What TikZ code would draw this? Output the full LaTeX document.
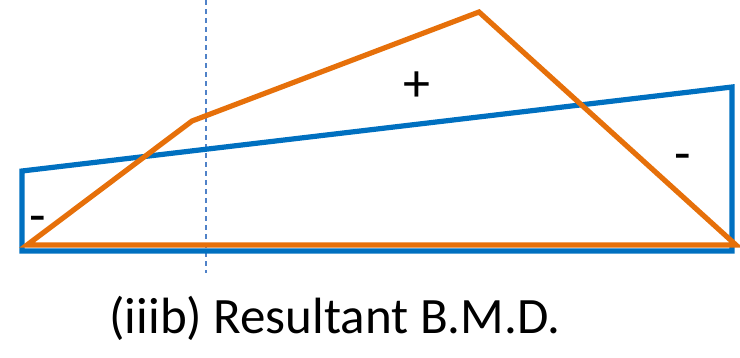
\documentclass[tikz,border=0pt]{standalone}
\usepackage{fontspec}
\setmainfont{Carlito}
\definecolor{bmblue}{RGB}{0,112,192}
\definecolor{bmorange}{RGB}{230,112,10}
\definecolor{dashblue}{RGB}{80,130,200}
\tikzset{
  blueline/.style={draw=bmblue, line width=5.2pt, line join=miter},
  orangeline/.style={draw=bmorange, line width=5.2pt, line join=miter},
  signlbl/.style={font=\fontsize{54}{60}\selectfont, inner sep=0pt, anchor=base},
}
\begin{document}
\begin{tikzpicture}[x=1pt,y=-1pt]
\useasboundingbox (0,0) rectangle (740,357);
\coordinate (b1) at (22,171);
\coordinate (b2) at (22,251);
\coordinate (b3) at (732,251);
\coordinate (b4) at (732,87);
\coordinate (o1) at (27,245);
\coordinate (o2) at (192,121);
\coordinate (o3) at (479,12);
\coordinate (o4) at (736,245);
\coordinate (d1) at (206,0);
\coordinate (d2) at (206,273);
\draw[dashblue, line width=1.3pt, dash pattern=on 5pt off 4pt] (d1) -- (d2);
\draw[blueline] (b1) -- (b2) -- (b3) -- (b4) -- cycle;
\draw[orangeline] (o1) -- (o2) -- (o3) -- (o4) -- cycle;
\node[signlbl] (plus) at (417,101) {+};
\node[signlbl] (m1) at (38,233) {-};
\node[signlbl] (m2) at (683,171) {-};
\node[font=\fontsize{51}{60}\selectfont, inner sep=0pt, anchor=base] (cap) at (335,333) {(iiib) Resultant B.M.D.};
\end{tikzpicture}
\end{document}
